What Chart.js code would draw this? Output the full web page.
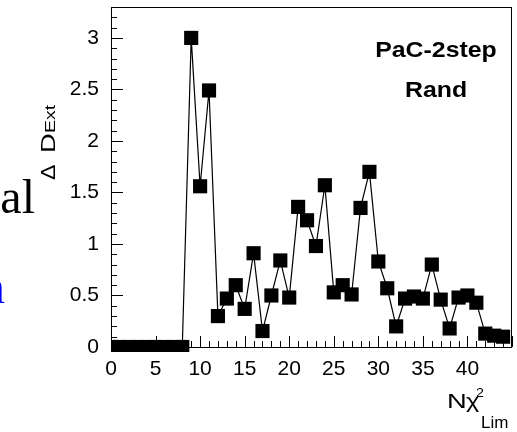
<!DOCTYPE html>
<html lang="en">
<head>
<meta charset="UTF-8">
<title>PaC-2step Rand</title>
<script src="https://cdn.jsdelivr.net/npm/chart.js"></script>
<style>
  html, body { margin: 0; padding: 0; background: #fff; overflow: hidden; }
  #wrap { position: relative; width: 517px; height: 432px; }
  #chart { position: absolute; left: 0; top: 0; }
  .slide { position: absolute; z-index: 2; font-family: "Liberation Serif", "Times New Roman", serif;
           font-size: 48px; line-height: 48px; white-space: nowrap; }
</style>
</head>
<body>
<div id="wrap">
  <canvas id="chart" width="517" height="432"></canvas>
  <div class="slide" style="left:-13px; top:173px; color:#000;">tal</div>
  <div class="slide" style="left:-19px; top:263px; color:#00f;">n</div>
</div>

<script>
// N chi2 limit (x) and Delta D_Ext (y)
const nChi2Lim = [0, 1, 2, 3, 4, 5, 6, 7, 8, 9, 10, 11, 12, 13, 14, 15, 16, 17, 18, 19, 20, 21,
                  22, 23, 24, 25, 26, 27, 28, 29, 30, 31, 32, 33, 34, 35, 36, 37, 38, 39, 40, 41, 42, 43, 44];
const deltaDExt = [0, 0, 0, 0, 0, 0, 0, 0, 0,
                   3.0, 1.56, 2.49, 0.30, 0.47, 0.60, 0.37, 0.91, 0.155, 0.50, 0.84, 0.48,
                   1.36, 1.23, 0.98, 1.57, 0.53, 0.60, 0.51, 1.35, 1.70, 0.83, 0.57, 0.20,
                   0.47, 0.49, 0.47, 0.80, 0.46, 0.18, 0.48, 0.50, 0.43, 0.13, 0.11, 0.10];

const xTickLabels = ['0', '5', '10', '15', '20', '25', '30', '35', '40'];
const yTickLabels = ['0', '0.5', '1', '1.5', '2', '2.5', '3'];
const statLines = ['PaC-2step', 'Rand'];

const SANS = '"Liberation Sans", Arial, Helvetica, sans-serif';
Chart.defaults.font.family = SANS;
Chart.defaults.color = '#000';

function labelFor(list, v) {
  const hit = list.find(s => Math.abs(parseFloat(s) - v) < 1e-6);
  return hit === undefined ? '' : hit;
}

function stretchText(ctx, str, x, y, sx) {
  ctx.save();
  ctx.translate(x, y);
  ctx.scale(sx, 1);
  ctx.fillText(str, 0, 0);
  ctx.restore();
}

// no extra room for edge labels, the frame sits where the layout says
function noEdgePadding(s) {
  s.paddingTop = 0;
  s.paddingBottom = 0;
  s.paddingLeft = 0;
  s.paddingRight = 0;
}

// box frame, inward ticks, axis titles and the stat text
const framePlugin = {
  id: 'frame',
  afterDraw(chart) {
    const { ctx, chartArea: a, scales: { x, y } } = chart;
    ctx.save();
    ctx.strokeStyle = '#000';
    ctx.lineWidth = 1;
    ctx.strokeRect(a.left + 0.5, a.top + 0.5, a.right - a.left - 1, a.bottom - a.top);

    ctx.beginPath();
    y.ticks.forEach(t => {
      const py = Math.round(y.getPixelForValue(t.value)) + 0.5;
      const major = labelFor(yTickLabels, t.value) !== '';
      ctx.moveTo(a.left, py);
      ctx.lineTo(a.left + (major ? 12 : 6), py);
    });
    x.ticks.forEach(t => {
      const px = Math.round(x.getPixelForValue(t.value)) + 0.5;
      const major = Math.abs(t.value % 5) < 1e-6;
      ctx.moveTo(px, a.bottom);
      ctx.lineTo(px, a.bottom - (major ? 11 : 6));
    });
    ctx.stroke();

    ctx.fillStyle = '#000';
    ctx.textBaseline = 'alphabetic';
    ctx.textAlign = 'left';

    // y title: Delta D_Ext, reading upward
    ctx.save();
    ctx.translate(a.left - 56, a.top + 173);
    ctx.rotate(-Math.PI / 2);
    ctx.font = '21px ' + SANS;
    stretchText(ctx, 'Δ', 0, 0, 1.1);
    stretchText(ctx, 'D', 27, 0, 1.3);
    ctx.font = '15px ' + SANS;
    stretchText(ctx, 'Ext', 47, 0, 1.3);
    ctx.restore();

    // x title: N chi^2_Lim
    ctx.font = '21px ' + SANS;
    stretchText(ctx, 'N', a.right - 65, a.bottom + 61, 1.3);
    stretchText(ctx, 'χ', a.right - 46, a.bottom + 61, 1.2);
    ctx.font = '13px ' + SANS;
    stretchText(ctx, '2', a.right - 36, a.bottom + 50, 1.1);
    ctx.font = '17px ' + SANS;
    stretchText(ctx, 'Lim', a.right - 31, a.bottom + 81, 1.0);

    // stat text, centred
    ctx.font = 'bold 22px ' + SANS;
    statLines.forEach((s, i) => {
      const w = ctx.measureText(s).width * 1.13;
      stretchText(ctx, s, a.right - 76 - w / 2, a.top + 50 + i * 40, 1.13);
    });
    ctx.restore();
  }
};

new Chart(document.getElementById('chart'), {
  type: 'line',
  data: {
    datasets: [{
      data: nChi2Lim.map((n, i) => ({ x: n, y: deltaDExt[i] })),
      borderColor: '#000',
      borderWidth: 1.2,
      tension: 0,
      pointStyle: 'rect',
      pointRadius: 10,
      pointHoverRadius: 10,
      pointBackgroundColor: '#000',
      pointBorderWidth: 0,
      clip: { left: 0, top: 0, right: 0, bottom: 5 }
    }]
  },
  options: {
    responsive: false,
    animation: false,
    events: [],
    layout: { autoPadding: false, padding: { top: 7, right: 5, left: 0, bottom: 0 } },
    plugins: { legend: { display: false }, tooltip: { enabled: false } },
    scales: {
      x: {
        type: 'linear',
        min: 0,
        max: 45,
        grid: { display: false, drawTicks: false },
        border: { display: false },
        afterFit: s => { s.height = 85; noEdgePadding(s); },
        ticks: {
          stepSize: 1,
          maxTicksLimit: 100,
          autoSkip: false,
          maxRotation: 0,
          padding: 10,
          font: { size: 21 },
          callback: v => labelFor(xTickLabels, v)
        }
      },
      y: {
        min: 0,
        max: 3.3,
        grid: { display: false, drawTicks: false },
        border: { display: false },
        afterFit: s => { s.width = 111; noEdgePadding(s); },
        ticks: {
          stepSize: 0.1,
          maxTicksLimit: 100,
          autoSkip: false,
          padding: 12,
          font: { size: 21 },
          callback: v => labelFor(yTickLabels, v)
        }
      }
    }
  },
  plugins: [framePlugin]
});
</script>
</body>
</html>
